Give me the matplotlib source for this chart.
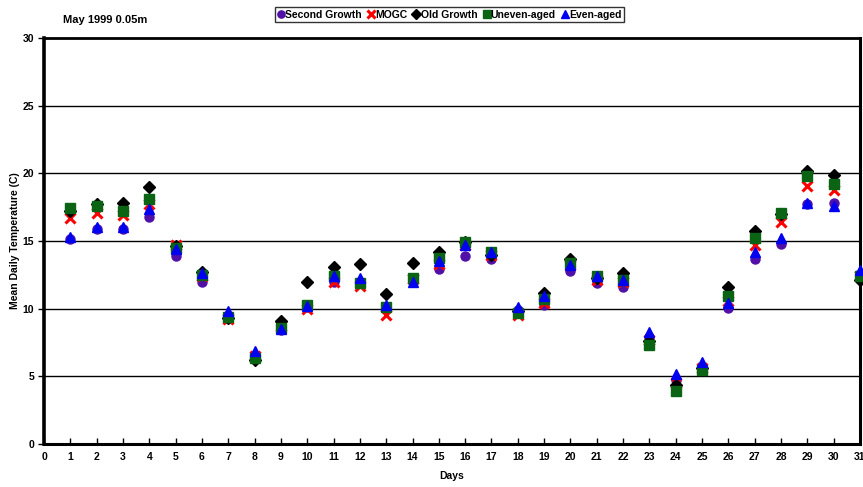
import matplotlib
matplotlib.use("Agg")
import matplotlib.pyplot as plt
from matplotlib.ticker import MultipleLocator

plt.rcParams['font.family'] = ['Liberation Sans', 'DejaVu Sans']
plt.rcParams['font.weight'] = 'bold'

days = list(range(1, 32))

second_growth = [15.15, 15.9, 15.9, 16.8, 13.9, 12.0, 9.3, 6.4, 8.4, 10.1, 12.0, 12.0, 10.0, 12.0,
                 12.9, 13.9, 13.7, 9.9, 10.3, 12.8, 11.9, 11.6, 7.9, 4.75, 5.7, 10.05, 13.7, 14.75,
                 17.7, 17.8, 12.5]
mogc = [16.7, 17.1, 16.9, 17.7, 14.7, 12.4, 9.2, 6.5, 8.7, 10.0, 12.0, 11.7, 9.5, 12.2,
        13.3, 14.7, 14.0, 9.5, 10.4, 13.2, 12.1, 12.0, 7.7, 4.5, 5.6, 10.6, 14.7, 16.4,
        19.1, 18.75, 12.4]
old_growth = [17.2, 17.76, 17.8, 18.98, 14.6, 12.7, 9.3, 6.2, 9.1, 12.0, 13.1, 13.3, 11.1, 13.35,
              14.2, 14.9, 14.0, 9.8, 11.15, 13.7, 12.3, 12.6, 7.6, 4.35, 5.6, 11.6, 15.75, 17.0,
              20.2, 19.9, 12.1]
uneven_aged = [17.45, 17.6, 17.2, 18.1, 14.5, 12.5, 9.4, 6.35, 8.6, 10.3, 12.45, 11.9, 10.1, 12.3,
               13.75, 14.9, 14.2, 9.7, 10.7, 13.4, 12.45, 12.1, 7.3, 3.9, 5.5, 10.9, 15.25, 17.1,
               19.8, 19.2, 12.4]
even_aged = [15.3, 16.0, 16.0, 17.4, 14.4, 12.6, 9.8, 6.9, 8.5, 10.2, 12.4, 12.3, 10.25, 12.0,
             13.5, 14.7, 14.2, 10.15, 10.95, 13.25, 12.4, 12.1, 8.3, 5.2, 6.05, 10.45, 14.2, 15.25,
             17.8, 17.6, 12.85]

series = [
    ("Second Growth", second_growth, dict(marker='o', color='#5010A8', ms=6.5)),
    ("MOGC", mogc, dict(marker='x', color='#FF0000', ms=6.5, mew=2.2)),
    ("Old Growth", old_growth, dict(marker='D', color='#000000', ms=6.2)),
    ("Uneven-aged", uneven_aged, dict(marker='s', color='#0A6414', ms=7)),
    ("Even-aged", even_aged, dict(marker='^', color='#0000F0', ms=7.5)),
]

fig = plt.figure(figsize=(8.63, 4.87), dpi=100)
ax = fig.add_axes([0.051, 0.0883, 0.9455, 0.8337])

for name, vals, style in series:
    ax.plot(days, vals, linestyle='none', label=name, clip_on=False, zorder=3, **style)

ax.set_xlim(0, 31)
ax.set_ylim(0, 30)
ax.xaxis.set_major_locator(MultipleLocator(1))
ax.yaxis.set_major_locator(MultipleLocator(5))

for y in range(5, 30, 5):
    ax.axhline(y, color='black', lw=1.0, zorder=1)

ax.spines['left'].set_linewidth(2.6)
ax.spines['bottom'].set_linewidth(2.2)
ax.spines['right'].set_linewidth(2.2)
ax.spines['top'].set_linewidth(2.0)

ax.tick_params(axis='x', direction='in', length=4, width=1, labelsize=7.5, pad=6)
ax.tick_params(axis='y', direction='out', length=4, width=1, labelsize=7.5, pad=3)
for lbl in ax.get_xticklabels() + ax.get_yticklabels():
    lbl.set_fontweight('bold')

ax.set_xlabel("Days", fontsize=7.5, fontweight='bold', labelpad=6)
ax.set_ylabel("Mean Daily Temperature (C)", fontsize=7.5, fontweight='bold', labelpad=2)

fig.text(0.073, 0.958, "May 1999 0.05m", fontsize=8, fontweight='bold', ha='left', va='center')

leg = fig.legend(loc='center', bbox_to_anchor=(0.521, 0.970), ncol=5, fontsize=7.5,
                 frameon=True, fancybox=False, edgecolor='black', handlelength=0.6,
                 handletextpad=0.1, columnspacing=0.6, borderpad=0.25, markerscale=0.8,
                 borderaxespad=0)
leg.get_frame().set_linewidth(1.0)
for t in leg.get_texts():
    t.set_fontweight('bold')

fig.savefig("out.png", dpi=100)
